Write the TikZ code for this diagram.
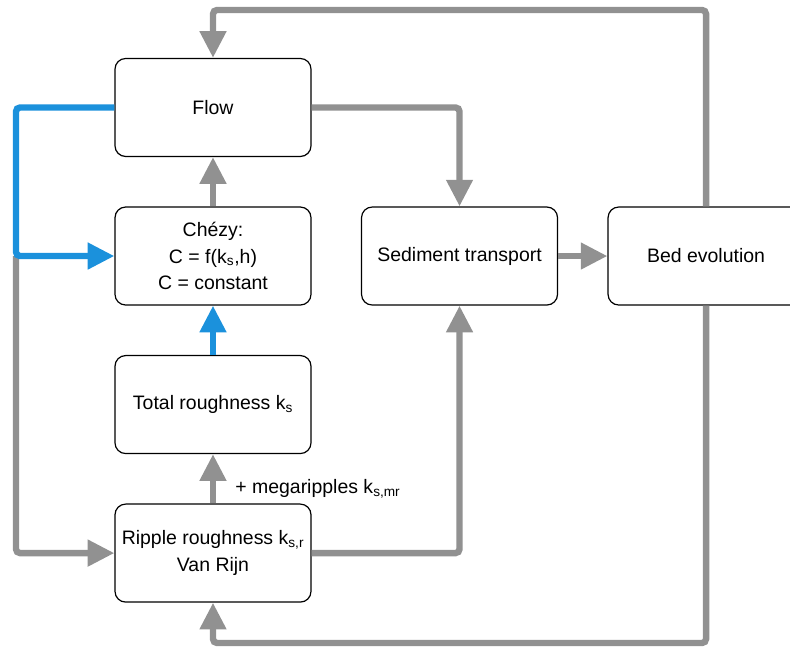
\documentclass[tikz,border=0pt]{standalone}
\usepackage{fontspec}
\setmainfont{Liberation Sans}
\usetikzlibrary{positioning,arrows.meta}
\definecolor{linegray}{RGB}{145,145,145}
\definecolor{lineblue}{RGB}{27,145,220}

\begin{document}
\begin{tikzpicture}[x=0.75pt,y=0.75pt,node distance=37pt,
 box/.style={draw,rounded corners=8pt,line width=0.9pt,minimum width=147pt,minimum height=73.5pt,align=center,font=\fontsize{14.6}{20}\selectfont},
 flowline/.style={draw=linegray,line width=4.8pt,rounded corners=3pt,-{Triangle[length=20pt,width=19pt]}},
 blueline/.style={flowline,draw=lineblue}]
\useasboundingbox (0,0) rectangle (790,649);
\clip (0,0) rectangle (790,649);

\node[box] (flow) at (213,541.5) {Flow};
\node[box,below=of flow] (chezy) {Chézy:\\C = f(k\textsubscript{s},h)\\C = constant};
\node[box,below=of chezy] (total) {Total roughness k\textsubscript{s}};
\node[box,below=of total] (ripple) {Ripple roughness k\textsubscript{s,r}\\Van Rijn};
\node[box,right=of chezy] (sediment) {Sediment transport};
\node[box,right=of sediment] (bed) {Bed evolution};

% feedback loops
\draw[flowline] (bed.north) -- (bed.north |- 0,639) -| (flow.north);
\draw[flowline] (bed.south) -- (bed.south |- 0,6) -| (ripple.south);

\draw[flowline] (flow.east) -| (sediment.north);
\draw[flowline] (sediment.east) -- (bed.west);
\draw[flowline] (chezy.north) -- (flow.south);
\draw[flowline] (ripple.east) -| (sediment.south);
\draw[flowline] (ripple.north) -- (total.south)
  node[pos=0.3,right,xshift=11pt,font=\fontsize{14.6}{20}\selectfont] (mega) {+ megaripples k\textsubscript{s,mr}};

\coordinate (split) at (chezy.west -| 16,0);
\draw[flowline] (split) |- (ripple.west);
\draw[blueline] (flow.west) -| (split) -- (chezy.west);
\draw[blueline] (total.north) -- (chezy.south);
\end{tikzpicture}
\end{document}
